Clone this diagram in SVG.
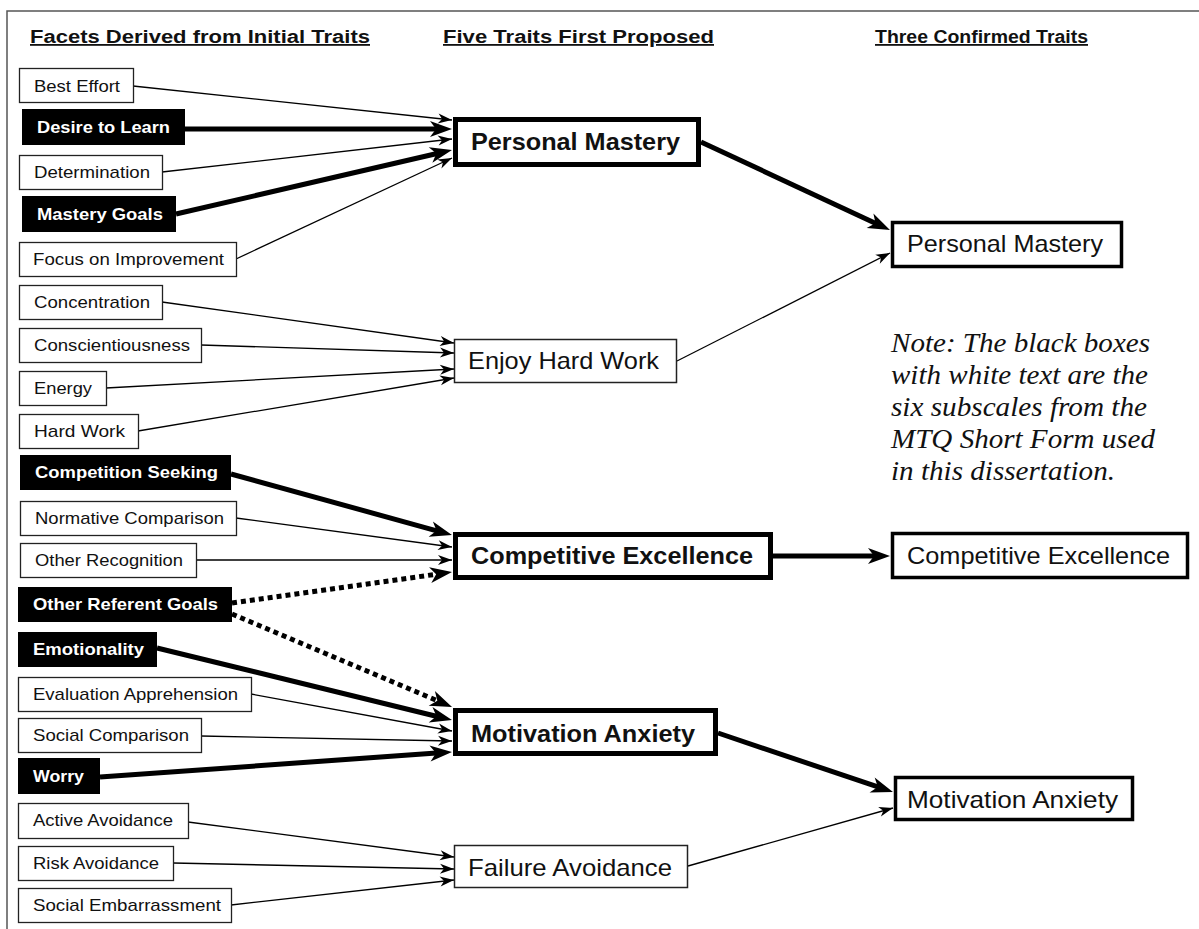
<svg xmlns="http://www.w3.org/2000/svg" width="1199" height="929" viewBox="0 0 1199 929">
  <style>
    .facet { fill: #fff; stroke: #222; stroke-width: 1.3; }
    .sub { fill: #000; stroke: none; }
    .trait { fill: #fff; stroke: #000; stroke-width: 5; }
    .trait-thin { fill: #fff; stroke: #222; stroke-width: 1.5; }
    .confirmed { fill: #fff; stroke: #000; stroke-width: 3.5; }
    .lbl { font-family: "Liberation Sans", Arial, sans-serif; font-size: 17px; fill: #111; }
    .lbl-b { font-family: "Liberation Sans", Arial, sans-serif; font-size: 17px; font-weight: bold; fill: #fff; }
    .big { font-family: "Liberation Sans", Arial, sans-serif; font-size: 24px; fill: #111; }
    .big-b { font-family: "Liberation Sans", Arial, sans-serif; font-size: 24px; font-weight: bold; fill: #111; }
    .head { font-family: "Liberation Sans", Arial, sans-serif; font-size: 18px; font-weight: bold; fill: #111; text-decoration: underline; }
    .note { font-family: "Liberation Serif", "Times New Roman", serif; font-size: 28px; font-style: italic; fill: #111; }
    .thin { fill: none; stroke: #000; stroke-width: 1.3; marker-end: url(#arrowThin); }
    .thick { fill: none; stroke: #000; stroke-width: 5; marker-end: url(#arrowThick); }
    .dotted { fill: none; stroke: #000; stroke-width: 5; stroke-dasharray: 5 4; marker-end: url(#arrowThick); }
  </style>
  <defs>
    <marker id="arrowThin" markerUnits="userSpaceOnUse" markerWidth="30" markerHeight="30" refX="0" refY="0" orient="auto" overflow="visible">
      <path d="M-14,-5 L0,0 L-14,5 L-10,0 Z" fill="#000"/>
    </marker>
    <marker id="arrowThick" markerUnits="userSpaceOnUse" markerWidth="40" markerHeight="40" refX="0" refY="0" orient="auto" overflow="visible">
      <path d="M-10,-8 L12,0 L-10,8 L-4,0 Z" fill="#000"/>
    </marker>
  </defs>

  <rect width="1199" height="929" fill="#fff"/>
  <!-- outer frame -->
  <path d="M7,929 V11 H1199" fill="none" stroke="#555" stroke-width="1.5"/>

  <!-- column headings -->
  <g id="headings">
    <text class="head" x="30" y="43" textLength="340" lengthAdjust="spacingAndGlyphs">Facets Derived from Initial Traits</text>
    <text class="head" x="443" y="43" textLength="271" lengthAdjust="spacingAndGlyphs">Five Traits First Proposed</text>
    <text class="head" x="875" y="43" textLength="213" lengthAdjust="spacingAndGlyphs">Three Confirmed Traits</text>
  </g>

  <!-- connectors -->
  <g id="connectors">
    <line class="thin" x1="133" y1="86" x2="452" y2="120"/>
    <line class="thick" x1="185" y1="129" x2="440" y2="129"/>
    <line class="thin" x1="162" y1="172" x2="452" y2="139"/>
    <line class="thick" x1="176" y1="214" x2="440.3" y2="152.7"/>
    <line class="thin" x1="236" y1="259" x2="452" y2="158"/>

    <line class="thin" x1="162" y1="302" x2="454" y2="343"/>
    <line class="thin" x1="201" y1="345" x2="454" y2="353"/>
    <line class="thin" x1="106" y1="388" x2="454" y2="369"/>
    <line class="thin" x1="138" y1="431" x2="454" y2="378"/>

    <line class="thick" x1="701" y1="142" x2="879.1" y2="224.9"/>
    <line class="thin" x1="677" y1="361" x2="890" y2="253"/>

    <line class="thick" x1="231" y1="474" x2="440.4" y2="531.8"/>
    <line class="thin" x1="236" y1="518" x2="452" y2="547"/>
    <line class="thin" x1="196" y1="560" x2="452" y2="560"/>
    <line class="dotted" x1="232" y1="603" x2="440.1" y2="573.7"/>
    <line class="thick" x1="773" y1="556" x2="878" y2="556"/>

    <line class="dotted" x1="232" y1="614" x2="441" y2="702.3"/>
    <line class="thick" x1="157" y1="648" x2="440.3" y2="717.2"/>
    <line class="thin" x1="251" y1="694" x2="452" y2="731"/>
    <line class="thin" x1="201" y1="736" x2="452" y2="741"/>
    <line class="thick" x1="100" y1="777" x2="440" y2="752.8"/>

    <line class="thin" x1="188" y1="822" x2="454" y2="857"/>
    <line class="thin" x1="173" y1="863" x2="454" y2="869"/>
    <line class="thin" x1="231" y1="905" x2="454" y2="880"/>

    <line class="thick" x1="718" y1="733" x2="881.6" y2="788.2"/>
    <line class="thin" x1="688" y1="866" x2="893" y2="808"/>
  </g>

  <!-- facets -->
  <g id="best-effort"><rect class="facet" x="19.5" y="68.5" width="114" height="34"/><text class="lbl" x="34" y="92" textLength="86" lengthAdjust="spacingAndGlyphs">Best Effort</text></g>
  <g id="desire-to-learn"><rect class="sub" x="22" y="109" width="163" height="36"/><text class="lbl-b" x="37" y="133" textLength="133" lengthAdjust="spacingAndGlyphs">Desire to Learn</text></g>
  <g id="determination"><rect class="facet" x="19.5" y="155.5" width="143" height="34"/><text class="lbl" x="34" y="178" textLength="116" lengthAdjust="spacingAndGlyphs">Determination</text></g>
  <g id="mastery-goals"><rect class="sub" x="22" y="196" width="154" height="36"/><text class="lbl-b" x="37" y="220" textLength="126" lengthAdjust="spacingAndGlyphs">Mastery Goals</text></g>
  <g id="focus-on-improvement"><rect class="facet" x="19.5" y="242.5" width="217" height="34"/><text class="lbl" x="33" y="265" textLength="191" lengthAdjust="spacingAndGlyphs">Focus on Improvement</text></g>
  <g id="concentration"><rect class="facet" x="19.5" y="285.5" width="143" height="34"/><text class="lbl" x="34" y="308" textLength="116" lengthAdjust="spacingAndGlyphs">Concentration</text></g>
  <g id="conscientiousness"><rect class="facet" x="19.5" y="328.5" width="182" height="34"/><text class="lbl" x="34" y="351" textLength="156" lengthAdjust="spacingAndGlyphs">Conscientiousness</text></g>
  <g id="energy"><rect class="facet" x="19.5" y="371.5" width="87" height="34"/><text class="lbl" x="34" y="394" textLength="58" lengthAdjust="spacingAndGlyphs">Energy</text></g>
  <g id="hard-work"><rect class="facet" x="19.5" y="414.5" width="119" height="34"/><text class="lbl" x="34" y="437" textLength="91" lengthAdjust="spacingAndGlyphs">Hard Work</text></g>
  <g id="competition-seeking"><rect class="sub" x="20" y="455" width="211" height="35"/><text class="lbl-b" x="35" y="478" textLength="183" lengthAdjust="spacingAndGlyphs">Competition Seeking</text></g>
  <g id="normative-comparison"><rect class="facet" x="20.5" y="501.5" width="216" height="34"/><text class="lbl" x="35" y="524" textLength="189" lengthAdjust="spacingAndGlyphs">Normative Comparison</text></g>
  <g id="other-recognition"><rect class="facet" x="20.5" y="543.5" width="176" height="34"/><text class="lbl" x="35" y="566" textLength="148" lengthAdjust="spacingAndGlyphs">Other Recognition</text></g>
  <g id="other-referent-goals"><rect class="sub" x="18" y="587" width="214" height="35"/><text class="lbl-b" x="33" y="610" textLength="185" lengthAdjust="spacingAndGlyphs">Other Referent Goals</text></g>
  <g id="emotionality"><rect class="sub" x="18" y="632" width="139" height="35"/><text class="lbl-b" x="33" y="655" textLength="111" lengthAdjust="spacingAndGlyphs">Emotionality</text></g>
  <g id="evaluation-apprehension"><rect class="facet" x="18.5" y="677.5" width="233" height="34"/><text class="lbl" x="33" y="700" textLength="205" lengthAdjust="spacingAndGlyphs">Evaluation Apprehension</text></g>
  <g id="social-comparison"><rect class="facet" x="18.5" y="718.5" width="183" height="34"/><text class="lbl" x="33" y="741" textLength="156" lengthAdjust="spacingAndGlyphs">Social Comparison</text></g>
  <g id="worry"><rect class="sub" x="18" y="758" width="82" height="36"/><text class="lbl-b" x="33" y="782" textLength="51" lengthAdjust="spacingAndGlyphs">Worry</text></g>
  <g id="active-avoidance"><rect class="facet" x="18.5" y="803.5" width="170" height="35"/><text class="lbl" x="33" y="826" textLength="140" lengthAdjust="spacingAndGlyphs">Active Avoidance</text></g>
  <g id="risk-avoidance"><rect class="facet" x="18.5" y="846.5" width="155" height="34"/><text class="lbl" x="33" y="869" textLength="126" lengthAdjust="spacingAndGlyphs">Risk Avoidance</text></g>
  <g id="social-embarrassment"><rect class="facet" x="18.5" y="888.5" width="213" height="34"/><text class="lbl" x="33" y="911" textLength="188" lengthAdjust="spacingAndGlyphs">Social Embarrassment</text></g>

  <!-- five proposed traits -->
  <g id="trait-personal-mastery"><rect class="trait" x="455.5" y="119.5" width="243" height="45"/><text class="big-b" x="471" y="150" textLength="209" lengthAdjust="spacingAndGlyphs">Personal Mastery</text></g>
  <g id="trait-enjoy-hard-work"><rect class="trait-thin" x="454.5" y="339.5" width="222" height="43"/><text class="big" x="468" y="369" textLength="191" lengthAdjust="spacingAndGlyphs">Enjoy Hard Work</text></g>
  <g id="trait-competitive-excellence"><rect class="trait" x="455.5" y="534.5" width="315" height="43"/><text class="big-b" x="471" y="564" textLength="282" lengthAdjust="spacingAndGlyphs">Competitive Excellence</text></g>
  <g id="trait-motivation-anxiety"><rect class="trait" x="455.5" y="710.5" width="260" height="43"/><text class="big-b" x="471" y="742" font-size="27" textLength="224" lengthAdjust="spacingAndGlyphs">Motivation Anxiety</text></g>
  <g id="trait-failure-avoidance"><rect class="trait-thin" x="454.5" y="845.5" width="233" height="42"/><text class="big" x="468" y="876" font-size="27" textLength="204" lengthAdjust="spacingAndGlyphs">Failure Avoidance</text></g>

  <!-- three confirmed traits -->
  <g id="confirmed-personal-mastery"><rect class="confirmed" x="892.5" y="222.5" width="229" height="44"/><text class="big" x="907" y="252" textLength="196" lengthAdjust="spacingAndGlyphs">Personal Mastery</text></g>
  <g id="confirmed-competitive-excellence"><rect class="confirmed" x="892.5" y="533.5" width="295" height="44"/><text class="big" x="907" y="564" textLength="263" lengthAdjust="spacingAndGlyphs">Competitive Excellence</text></g>
  <g id="confirmed-motivation-anxiety"><rect class="confirmed" x="895.5" y="777.5" width="237" height="42"/><text class="big" x="907" y="808" font-size="27" textLength="211" lengthAdjust="spacingAndGlyphs">Motivation Anxiety</text></g>

  <!-- note -->
  <g id="note">
    <text class="note" x="891" y="352" textLength="259" lengthAdjust="spacingAndGlyphs">Note: The black boxes</text>
    <text class="note" x="891" y="384" textLength="257" lengthAdjust="spacingAndGlyphs">with white text are the</text>
    <text class="note" x="891" y="416" textLength="256" lengthAdjust="spacingAndGlyphs">six subscales from the</text>
    <text class="note" x="891" y="448" textLength="264" lengthAdjust="spacingAndGlyphs">MTQ Short Form used</text>
    <text class="note" x="891" y="480" textLength="224" lengthAdjust="spacingAndGlyphs">in this dissertation.</text>
  </g>
</svg>
